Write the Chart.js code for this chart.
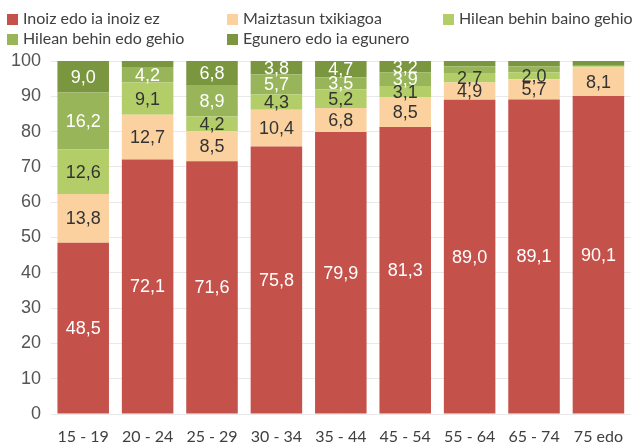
<!DOCTYPE html>
<html><head><meta charset="utf-8">
<script src="https://cdn.jsdelivr.net/npm/chart.js@4/dist/chart.umd.min.js"></script>
<style>
html,body{margin:0;padding:0;background:#fff;}
#wrap{position:relative;width:636px;height:446px;overflow:hidden;}
#c{position:absolute;left:0;top:0;}
.lg{position:absolute;font-family:Lato,"Open Sans",sans-serif;font-size:16px;color:#404040;white-space:nowrap;line-height:20px;}
.lg span{display:inline-block;width:11px;height:11px;margin-right:5px;vertical-align:-1px;}
</style></head><body>
<div id="wrap"><canvas id="c" width="636" height="446"></canvas></div>
<script>
const categories = ['15 - 19','20 - 24','25 - 29','30 - 34','35 - 44','45 - 54','55 - 64','65 - 74','75 edo'];
const seriesNames = ['Inoiz edo ia inoiz ez','Maiztasun txikiagoa','Hilean behin baino gehio','Hilean behin edo gehio','Egunero edo ia egunero'];
const inoiz     = [48.5,72.1,71.6,75.8,79.9,81.3,89.0,89.1,90.1];
const maiztasun = [13.8,12.7,8.5,10.4,6.8,8.5,4.9,5.7,8.1];
const bainoGehio= [12.6,9.1,4.2,4.3,5.2,3.1,2.7,2.0,0.3];
const edoGehio  = [16.2,4.2,8.9,5.7,3.5,3.9,1.9,1.7,0.4];
const egunero   = [9.0,1.9,6.8,3.8,4.7,3.2,1.5,1.5,1.1];
const yTicks = [0,10,20,30,40,50,60,70,80,90,100];

const colors = ['#C4514A','#FBD29F','#B3CE68','#98B55A','#7A963F'];
const labelColors = ['#fff','#333','#333','#fff','#fff'];
const values = [inoiz,maiztasun,bainoGehio,edoGehio,egunero];

// HTML legend
const wrap = document.getElementById('wrap');
const lgPos = [[7,8],[227,8],[443,8],[7,28],[227,28]];
seriesNames.forEach((n,i)=>{
  const d=document.createElement('div');d.className='lg';
  d.style.left=lgPos[i][0]+'px';d.style.top=lgPos[i][1]+'px';
  const s=document.createElement('span');s.style.background=colors[i];
  d.appendChild(s);d.appendChild(document.createTextNode(n));
  wrap.appendChild(d);
});

const labelPlugin = {
  id:'segLabels',
  afterDatasetsDraw(chart){
    const ctx=chart.ctx;
    ctx.save();
    ctx.font='18px "Liberation Sans", Arial, sans-serif';
    ctx.textAlign='center';ctx.textBaseline='middle';
    chart.data.datasets.forEach((ds,di)=>{
      const meta=chart.getDatasetMeta(di);
      meta.data.forEach((el,i)=>{
        const v=ds.data[i];
        if(v<2.0) return;
        ctx.fillStyle=labelColors[di];
        ctx.fillText(v.toFixed(1).replace('.',','), el.x, (el.y+el.base)/2+1);
      });
    });
    ctx.restore();
  }
};

new Chart(document.getElementById('c'),{
  type:'bar',
  data:{labels:categories,datasets:values.map((v,i)=>({
    label:seriesNames[i],data:v,backgroundColor:colors[i],borderWidth:0,
    barPercentage:0.8,categoryPercentage:1.0
  }))},
  options:{
    responsive:false,animation:false,
    layout:{padding:{top:61,left:0,right:-2,bottom:0}},
    plugins:{legend:{display:false},tooltip:{enabled:false}},
    scales:{
      x:{stacked:true,grid:{display:false,drawTicks:false},border:{display:false},
         afterFit(s){s.height=32;},
         ticks:{color:'#404040',padding:13,maxRotation:0,font:{family:'Lato, "Open Sans", sans-serif',size:16}}},
      y:{stacked:true,min:0,max:100,
         afterBuildTicks(s){s.ticks=yTicks.map(v=>({value:v}));},
         afterFit(s){s.width=51;},
         grid:{color:'#e8e8e8',lineWidth:1,drawTicks:false},border:{display:false},
         ticks:{color:'#555',padding:10,font:{family:'"Liberation Sans", Arial, sans-serif',size:18}}}
    }
  },
  plugins:[labelPlugin]
});
</script>
</body></html>
